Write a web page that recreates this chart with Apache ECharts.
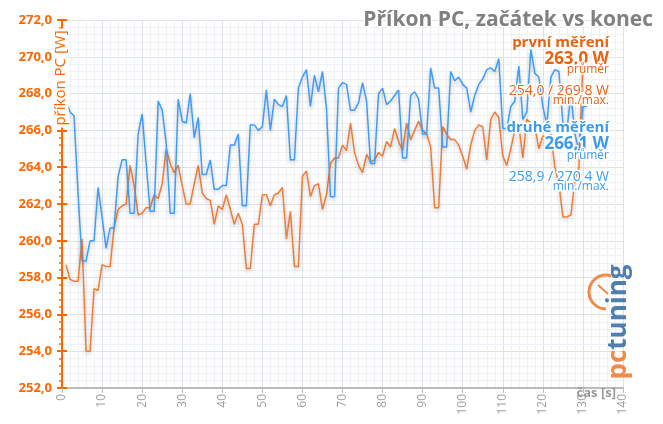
<!DOCTYPE html>
<html><head><meta charset="utf-8">
<script src="https://cdn.jsdelivr.net/npm/echarts@6/dist/echarts.min.js"></script>
<style>html,body{margin:0;padding:0;background:#fff}#c{width:663px;height:424px}</style>
</head><body><div id="c"></div>
<script>
// time in seconds starts at 1
const firstRun = [258.7,257.9,257.8,257.8,260.1,254.0,254.0,257.4,257.3,258.7,
258.6,258.6,260.7,261.7,261.9,262.0,264.1,263.0,261.4,261.5,
261.8,261.8,262.5,262.3,263.1,265.0,264.2,263.7,264.1,263.0,
262.0,262.0,263.1,264.1,262.6,262.3,262.2,260.9,261.9,261.7,
262.5,261.7,260.9,261.5,260.9,258.5,258.5,260.9,260.9,262.5,
262.5,261.9,262.5,262.6,262.9,260.1,261.6,258.6,258.6,263.5,
263.8,262.4,263.0,263.1,261.7,262.5,264.2,264.5,264.5,265.2,
264.9,266.4,264.8,264.1,263.7,264.7,264.3,264.4,264.8,264.6,
265.4,265.1,266.1,265.4,264.9,266.4,265.5,266.0,266.5,266.0,
265.8,265.1,261.8,261.8,266.2,265.8,265.5,265.5,265.2,264.6,
263.9,265.2,266.0,266.3,266.2,264.4,266.6,267.0,266.7,264.6,
264.1,265.0,266.0,266.3,264.5,266.6,266.4,266.2,265.0,265.7,
265.6,265.8,264.0,263.1,261.3,261.3,261.4,263.3,264.0,269.8];
const secondRun = [267.6,267.0,266.8,262.6,258.9,258.9,260.0,260.0,262.9,261.3,
259.6,260.7,260.7,263.5,264.4,264.4,261.5,261.5,265.8,266.9,
264.2,261.6,261.6,267.6,267.1,265.3,261.5,261.5,267.7,266.5,
266.4,268.0,265.6,266.7,263.6,263.6,264.4,262.8,262.8,263.0,
263.0,265.2,265.2,265.8,261.9,261.9,266.3,266.3,266.0,266.2,
268.2,266.0,267.7,267.4,267.3,267.9,264.4,264.4,268.3,268.9,
269.3,267.3,269.0,268.1,269.2,267.2,262.4,262.4,268.3,268.6,
268.5,267.1,267.1,267.5,268.6,267.6,264.2,264.2,268.0,268.3,
267.4,267.6,267.9,268.2,264.5,264.5,267.9,268.1,267.7,265.8,
265.8,269.4,268.3,268.3,265.1,265.1,269.2,268.7,268.9,268.5,
268.3,267.0,267.9,268.5,268.8,269.3,269.4,269.2,269.9,266.1,
266.1,267.3,267.6,269.5,266.6,267.0,270.4,269.1,268.9,267.3,
266.3,268.9,269.3,269.2,266.4,266.0,268.0,265.8,264.9,267.3,267.3];
const startSecond = 1;
const seriesNames = ['první měření','druhé měření'];
const avgLabels = ['263,0 W','266,1 W'];
const minMaxLabels = ['254,0 / 269,8 W','258,9 / 270,4 W'];
const titleText = 'Příkon PC, začátek vs konec';
const yName = 'příkon PC [W]';
const xName = 'čas [s]';

const ORANGE = '#f07d35', BLUE = '#3e9cfa', AXOR = '#ff6600', TXOR = '#e9620f', TXBL = '#3a9af0';
const toPairs = arr => arr.map((v,i)=>[i+startSecond, v]);
const chart = echarts.init(document.getElementById('c'), null, {renderer:'canvas'});
const fmt = v => v.toFixed(1).replace('.',',');
const halo = {stroke:'#fff', lineWidth:3};
function t(text, x, y, size, color, weight){
  return {type:'text', x:x, y:y, z:100, style:Object.assign({text:text, fill:color, font:(weight||'normal')+' '+size+'px "Open Sans", sans-serif', textAlign:'right', textVerticalAlign:'middle'}, halo)};
}
chart.setOption({
  animation:false,
  grid:{left:62, right:40, top:20, bottom:36},
  xAxis:{type:'value', min:0, max:140, interval:10,
    axisLine:{lineStyle:{color:'#bbbbbb', width:2}},
    axisTick:{show:true, length:5, lineStyle:{color:'#bbbbbb'}},
    axisLabel:{rotate:90, color:'#a0a0a0', fontSize:12, fontFamily:'Open Sans', margin:6},
    splitLine:{show:true, lineStyle:{color:'#dde1ea', width:1}},
    minorTick:{show:false, splitNumber:5},
    minorSplitLine:{show:true, lineStyle:{color:'#eff1f5', width:1}}
  },
  yAxis:[{type:'value', min:252, max:272, interval:2,
    axisLine:{show:true, lineStyle:{color:AXOR, width:2}},
    axisTick:{show:true, length:5, lineStyle:{color:AXOR, width:2}},
    minorTick:{show:true, splitNumber:5, length:3, lineStyle:{color:AXOR, width:1.5}},
    axisLabel:{color:AXOR, fontWeight:'bold', fontSize:13, fontFamily:'Open Sans', margin:10, formatter:fmt},
    splitLine:{show:true, lineStyle:{color:'#dde1ea', width:1}},
    minorSplitLine:{show:true, lineStyle:{color:'#eff1f5', width:1}}
  },{type:'value', min:252, max:272, interval:2, position:'left', offset:0,
    axisLine:{show:false}, axisLabel:{show:false}, splitLine:{show:false},
    axisTick:{show:true, inside:true, length:5, lineStyle:{color:AXOR, width:2}}
  }],
  series:[
    {name:seriesNames[0], type:'line', data:toPairs(firstRun), showSymbol:false, symbol:'none',
      lineStyle:{color:ORANGE, width:1.5, shadowColor:'rgba(0,0,0,0.25)', shadowBlur:4, shadowOffsetY:2}, z:2},
    {name:seriesNames[1], type:'line', data:toPairs(secondRun), showSymbol:false, symbol:'none',
      lineStyle:{color:BLUE, width:1.5, shadowColor:'rgba(0,0,0,0.25)', shadowBlur:4, shadowOffsetY:2}, z:3}
  ],
  graphic:[
    {type:'text', x:653, y:20, z:100, style:{text:titleText, fill:'#808080', font:'bold 21px "Open Sans", sans-serif', textAlign:'right', textVerticalAlign:'middle', stroke:'#fff', lineWidth:3}},
    t(seriesNames[0], 609, 43, 15, TXOR, 'bold'),
    t(avgLabels[0], 609, 59, 17, TXOR, 'bold'),
    t('průměr', 609, 70, 12, TXOR),
    t(minMaxLabels[0], 609, 91, 14, TXOR),
    t('min./max.', 609, 101, 12, TXOR),
    t(seriesNames[1], 609, 128, 15, TXBL, 'bold'),
    t(avgLabels[1], 609, 144, 17, TXBL, 'bold'),
    t('průměr', 609, 156, 12, TXBL),
    t(minMaxLabels[1], 609, 177, 14, TXBL),
    t('min./max.', 609, 187, 12, TXBL),
    {type:'text', x:61, y:78, z:100, rotation:Math.PI/2, style:{text:yName, fill:AXOR, font:'15px "Open Sans", sans-serif', textAlign:'center', textVerticalAlign:'middle', backgroundColor:'#fff', padding:[0,2]}},
    {type:'text', x:616, y:393, z:100, style:{text:xName, fill:'#999', font:'bold 13px "Open Sans", sans-serif', textAlign:'right', textVerticalAlign:'middle'}},
    {type:'arc', z:90, shape:{cx:606, cy:292, r:17, startAngle:Math.PI*0.5, endAngle:Math.PI*1.6}, style:{stroke:'#f08a4b', lineWidth:3, fill:null}},
    {type:'line', z:90, shape:{x1:598, y1:285, x2:608, y2:294}, style:{stroke:'#f08a4b', lineWidth:2}},
    {type:'text', x:619, y:322, z:91, rotation:Math.PI/2, style:{rich:{a:{fill:'#f08a4b', font:'bold 26px "Open Sans", sans-serif'}, b:{fill:'#4f7fae', font:'bold 26px "Open Sans", sans-serif'}}, text:'{a|pc}{b|tuning}', textAlign:'center', textVerticalAlign:'middle'}}
  ]
});
</script></body></html>
